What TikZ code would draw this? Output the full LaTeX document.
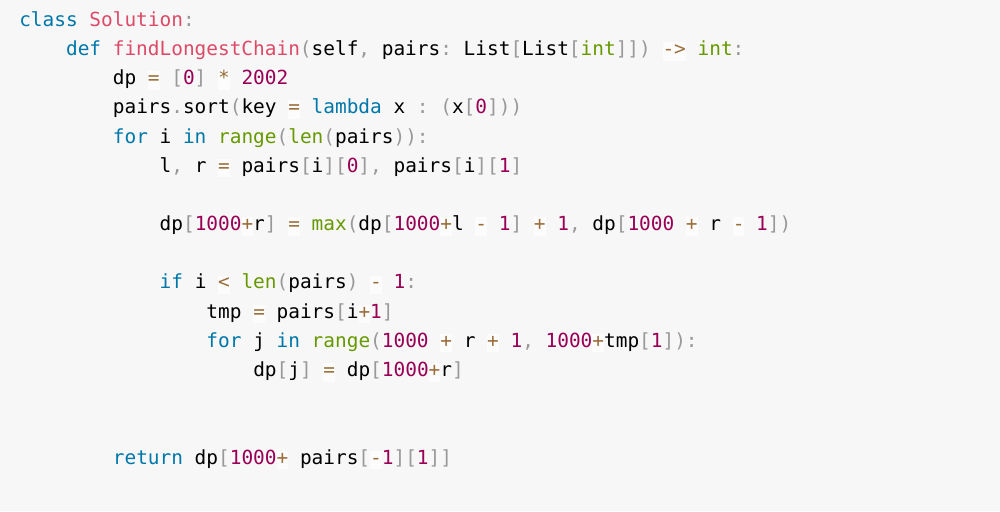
\documentclass[tikz,border=0pt]{standalone}
\usepackage{fontspec}
\newfontfamily\codefont{DejaVu Sans Mono}
\definecolor{bg}{HTML}{F7F7F7}
\definecolor{opbg}{HTML}{FCFCFC}
\definecolor{kw}{HTML}{0077AA}
\definecolor{fn}{HTML}{DD4A68}
\definecolor{num}{HTML}{990055}
\definecolor{bi}{HTML}{669900}
\definecolor{op}{HTML}{9A6E3A}
\definecolor{pu}{HTML}{999999}
\newcommand\K[1]{\textcolor{kw}{#1}}
\newcommand\F[1]{\textcolor{fn}{#1}}
\newcommand\N[1]{\textcolor{num}{#1}}
\newcommand\B[1]{\textcolor{bi}{#1}}
\newcommand\PU[1]{\textcolor{pu}{#1}}
\newcommand\OP[1]{{\fboxsep=0pt\colorbox{opbg}{\rule[-3.8pt]{0pt}{13.8pt}\textcolor{op}{#1}}}}
\tikzset{codeline/.style={anchor=base west, inner sep=0pt, font=\codefont\fontsize{14.57pt}{17pt}\selectfont\frenchspacing}}
\begin{document}
\begin{tikzpicture}[x=0.75pt,y=-0.75pt]
\useasboundingbox (0,0) rectangle (1000,511);
\fill[bg] (0,0) rectangle (1000,511);
\node[codeline] (l1) at (19,26.3) {\K{class} \F{Solution}\PU{:}};
\node[codeline] (l2) at (19+4*11.7,55.5) {\K{def} \F{findLongestChain}\PU{(}self\PU{,} pairs\PU{:} List\PU{[}List\PU{[}\B{int}\PU{]])} \OP{->} \B{int}\PU{:}};
\node[codeline] (l3) at (19+8*11.7,84.7) {dp \OP{=} \PU{[}\N{0}\PU{]} \OP{*} \N{2002}};
\node[codeline] (l4) at (19+8*11.7,113.8) {pairs\PU{.}sort\PU{(}key \OP{=} \K{lambda} x \PU{:} \PU{(}x\PU{[}\N{0}\PU{]))}};
\node[codeline] (l5) at (19+8*11.7,143.0) {\K{for} i \K{in} \B{range}\PU{(}\B{len}\PU{(}pairs\PU{)):}};
\node[codeline] (l6) at (19+12*11.7,172.2) {l\PU{,} r \OP{=} pairs\PU{[}i\PU{][}\N{0}\PU{],} pairs\PU{[}i\PU{][}\N{1}\PU{]}};
\node[codeline] (l8) at (19+12*11.7,230.6) {dp\PU{[}\N{1000}\OP{+}r\PU{]} \OP{=} \B{max}\PU{(}dp\PU{[}\N{1000}\OP{+}l \OP{-} \N{1}\PU{]} \OP{+} \N{1}\PU{,} dp\PU{[}\N{1000} \OP{+} r \OP{-} \N{1}\PU{])}};
\node[codeline] (l10) at (19+12*11.7,288.9) {\K{if} i \OP{<} \B{len}\PU{(}pairs\PU{)} \OP{-} \N{1}\PU{:}};
\node[codeline] (l11) at (19+16*11.7,318.1) {tmp \OP{=} pairs\PU{[}i\OP{+}\N{1}\PU{]}};
\node[codeline] (l12) at (19+16*11.7,347.3) {\K{for} j \K{in} \B{range}\PU{(}\N{1000} \OP{+} r \OP{+} \N{1}\PU{,} \N{1000}\OP{+}tmp\PU{[}\N{1}\PU{]):}};
\node[codeline] (l13) at (19+20*11.7,376.5) {dp\PU{[}j\PU{]} \OP{=} dp\PU{[}\N{1000}\OP{+}r\PU{]}};
\node[codeline] (l16) at (19+8*11.7,464.0) {\K{return} dp\PU{[}\N{1000}\OP{+} pairs\PU{[}\OP{-}\N{1}\PU{][}\N{1}\PU{]]}};
\end{tikzpicture}
\end{document}
